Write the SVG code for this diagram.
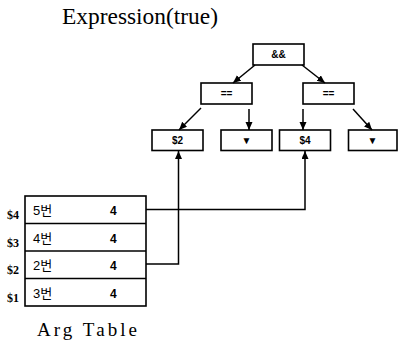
<svg xmlns="http://www.w3.org/2000/svg" width="398" height="341" viewBox="0 0 398 341">
<style>
.box{fill:#fff;stroke:#000;stroke-width:1.6}
.nt{font-family:"Liberation Sans",Arial,sans-serif;font-weight:bold;font-size:10px;text-anchor:middle;fill:#000}
.ln{fill:none;stroke:#000;stroke-width:1.5}
.title{font-family:"Liberation Serif","Times New Roman",serif;fill:#000}
.row{font-family:"Liberation Sans","Noto Sans CJK KR",sans-serif;font-size:13px;fill:#000}
.val{font-family:"Liberation Sans",Arial,sans-serif;font-weight:bold;font-size:12px;fill:#000}
.lab{font-family:"Liberation Serif","Times New Roman",serif;font-weight:bold;font-size:12px;fill:#000}
</style>
<defs>
<marker id="ah" markerUnits="userSpaceOnUse" markerWidth="9" markerHeight="8" refX="8" refY="3.5" orient="auto">
<path d="M0,0 L8,3.5 L0,7 z" fill="#000"/>
</marker>
</defs>
<text class="title" x="62" y="24" font-size="23" textLength="156" lengthAdjust="spacingAndGlyphs">Expression(true)</text>
<g id="n-and"><rect class="box" x="253" y="44" width="51" height="21"/><text class="nt" x="278.5" y="58">&amp;&amp;</text></g>
<g id="n-eqL"><rect class="box" x="201" y="83" width="51" height="21"/><text class="nt" x="226.5" y="97">==</text></g>
<g id="n-eqR"><rect class="box" x="303" y="83" width="51" height="21"/><text class="nt" x="328.5" y="97">==</text></g>
<g id="n-s2"><rect class="box" x="152" y="130" width="51" height="20.5"/><text class="nt" x="177.5" y="144">$2</text></g>
<g id="n-c1"><rect class="box" x="221" y="130" width="51" height="20.5"/><text class="nt" x="246.5" y="144" font-size="8">▼</text></g>
<g id="n-s4"><rect class="box" x="279.5" y="130" width="51" height="20.5"/><text class="nt" x="305" y="144">$4</text></g>
<g id="n-c2"><rect class="box" x="348.5" y="130" width="48.5" height="20.5"/><text class="nt" x="372.5" y="144" font-size="8">▼</text></g>
<g id="argtable">
<rect class="box" x="25" y="196" width="121" height="110"/>
<line class="ln" x1="25" y1="223.5" x2="146" y2="223.5"/>
<line class="ln" x1="25" y1="251" x2="146" y2="251"/>
<line class="ln" x1="25" y1="278.5" x2="146" y2="278.5"/>
<text class="lab" x="7" y="219">$4</text>
<text class="lab" x="7" y="246.5">$3</text>
<text class="lab" x="7" y="274">$2</text>
<text class="lab" x="7" y="301.5">$1</text>
<text class="row" x="33" y="215">5번</text>
<text class="row" x="33" y="242.5">4번</text>
<text class="row" x="33" y="270">2번</text>
<text class="row" x="33" y="297.5">3번</text>
<text class="val" x="110" y="215">4</text>
<text class="val" x="110" y="242.5">4</text>
<text class="val" x="110" y="270">4</text>
<text class="val" x="110" y="297.5">4</text>
<text class="title" x="37" y="336" font-size="19" textLength="100" lengthAdjust="spacing">Arg Table</text>
</g>
<g id="connectors">
<path class="ln" d="M255,65 L233,83" marker-end="url(#ah)"/>
<path class="ln" d="M302,65 L325,83" marker-end="url(#ah)"/>
<path class="ln" d="M201,108 L179,130" marker-end="url(#ah)"/>
<path class="ln" d="M249,109 L249,130" marker-end="url(#ah)"/>
<path class="ln" d="M303,109 L303,130" marker-end="url(#ah)"/>
<path class="ln" d="M353,109 L372,130" marker-end="url(#ah)"/>
<path class="ln" d="M146,209.5 H305 V151" marker-end="url(#ah)"/>
<path class="ln" d="M146,264 H178.5 V151" marker-end="url(#ah)"/>
</g>
</svg>
